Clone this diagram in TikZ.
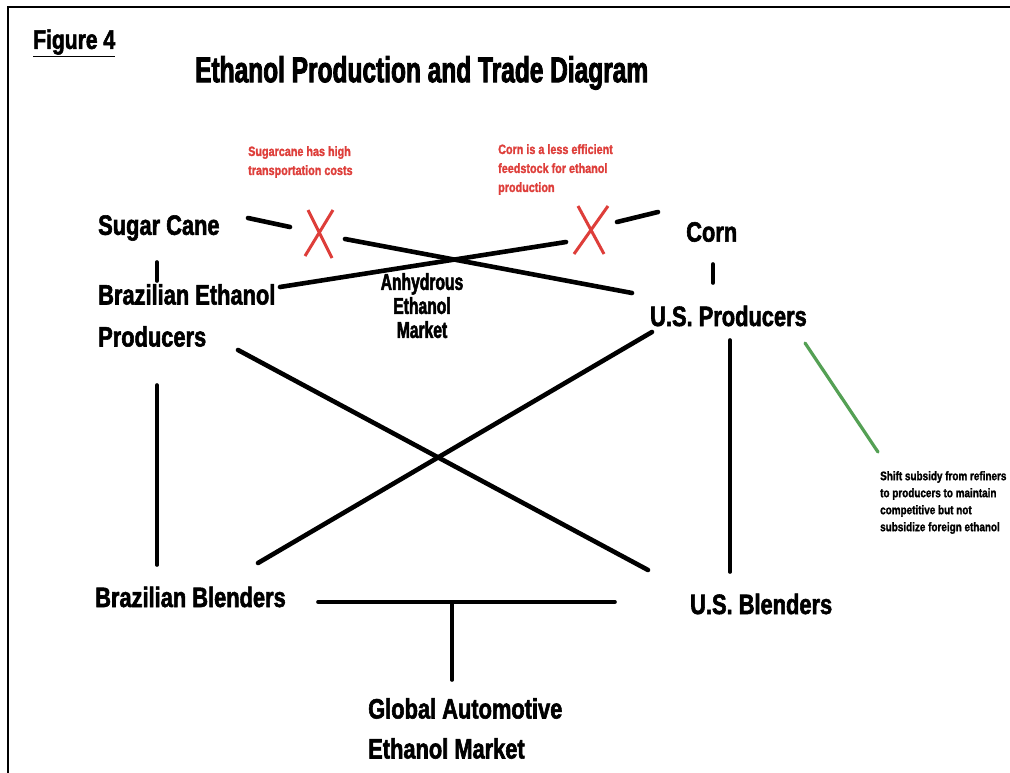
\documentclass[tikz,border=0pt]{standalone}
\usepackage{fontspec}
\newfontfamily\imp{Liberation Sans Bold}[FakeStretch=0.78,FakeBold=2]
\newfontfamily\impt{Liberation Sans Bold}[FakeStretch=0.68,FakeBold=2.2]
\newfontfamily\impn{Liberation Sans Bold}[FakeStretch=0.80,FakeBold=1.5]
\definecolor{xred}{RGB}{222,62,58}
\definecolor{ngreen}{RGB}{84,160,84}
\begin{document}
\begin{tikzpicture}[x=1pt,y=-1pt,
  lbl/.style={anchor=west,inner sep=0pt,align=left,font=\imp\fontsize{28}{42}\selectfont},
  note/.style={anchor=north west,inner sep=0pt,align=left,text=xred,font=\impn\fontsize{13.5}{19}\selectfont},
  gnote/.style={anchor=north west,inner sep=0pt,align=left,font=\impn\fontsize{12.4}{17}\selectfont},
  thick line/.style={line width=4.6pt,line cap=round},
  mid line/.style={line width=3.6pt,line cap=round},
  xline/.style={xred,line width=3pt},
  gline/.style={ngreen,line width=3.2pt,line cap=round}]
\useasboundingbox (0,0) rectangle (1010,772);
\fill[white] (0,0) rectangle (1010,772);
% frame
\draw[line width=2pt] (8,775) -- (8,7) -- (1015,7);
% headings
\node[anchor=west,inner sep=0pt,font=\imp\fontsize{27}{28}\selectfont] (fig) at (33,43) {\underline{Figure 4}};
\node[anchor=west,inner sep=0pt,font=\impt\fontsize{36}{40}\selectfont] (title) at (195,73) {Ethanol Production and Trade Diagram};
% red notes
\node[note] (n1) at (248,146) {Sugarcane has high\\transportation costs};
\node[note] (n2) at (498,144) {Corn is a less efficient\\feedstock for ethanol\\production};
% main nodes
\node[lbl] (sc) at (98,228) {Sugar Cane};
\node[lbl] (corn) at (686,232) {Corn};
\node[lbl,anchor=north west] (bep) at (98,284) {Brazilian Ethanol\\Producers};
\node[lbl,font=\impt\fontsize{23}{24}\selectfont,align=center,anchor=north] (aem) at (422,273) {Anhydrous\\Ethanol\\Market};
\node[lbl] (usp) at (650,316) {U.S. Producers};
\node[lbl] (bb) at (95,597) {Brazilian Blenders};
\node[lbl] (usb) at (690,604) {U.S. Blenders};
\node[lbl,anchor=north west,font=\imp\fontsize{28}{40}\selectfont] (gae) at (368,698) {Global Automotive\\Ethanol Market};
\node[gnote] (gn) at (880,471) {Shift subsidy from refiners\\to producers to maintain\\competitive but not\\subsidize foreign ethanol};
% coordinates for connector ends
\coordinate (scR) at (248,218);
\coordinate (x1L) at (290,227);
\coordinate (x1R) at (345,239);
\coordinate (cornL) at (658,212);
\coordinate (x2R) at (617,222);
\coordinate (x2L) at (566,242);
\coordinate (bepR) at (280,287);
\coordinate (uspL) at (632,293);
\coordinate (bepLow) at (238,350);
\coordinate (usbUp) at (648,570);
\coordinate (uspLow) at (652,332);
\coordinate (bbUp) at (258,563);
\coordinate (hl) at (318,602);
\coordinate (hr) at (615,602);
\coordinate (hm) at (452,602);
\coordinate (gaeTop) at (452,680);
% red X marks
\draw[xline] (308,210) -- (332,258) (333,210) -- (305,256);
\draw[xline] (578,206) -- (604,254) (608,206) -- (574,254);
% connectors
\draw[thick line] (scR) -- (x1L);
\draw[thick line] (x2R) -- (cornL);
\draw[thick line] (x1R) -- (uspL);
\draw[thick line] (bepR) -- (x2L);
\draw[mid line] (157,262) -- (157,281);
\draw[mid line] (713,264) -- (713,283);
\draw[mid line] (157,385) -- (157,565);
\draw[mid line] (730,340) -- (730,572);
\draw[thick line] (bepLow) -- (usbUp);
\draw[thick line] (uspLow) -- (bbUp);
\draw[gline] (805,343) -- (878,452);
\draw[mid line] (hl) -- (hr);
\draw[mid line] (hm) -- (gaeTop);
\end{tikzpicture}
\end{document}
